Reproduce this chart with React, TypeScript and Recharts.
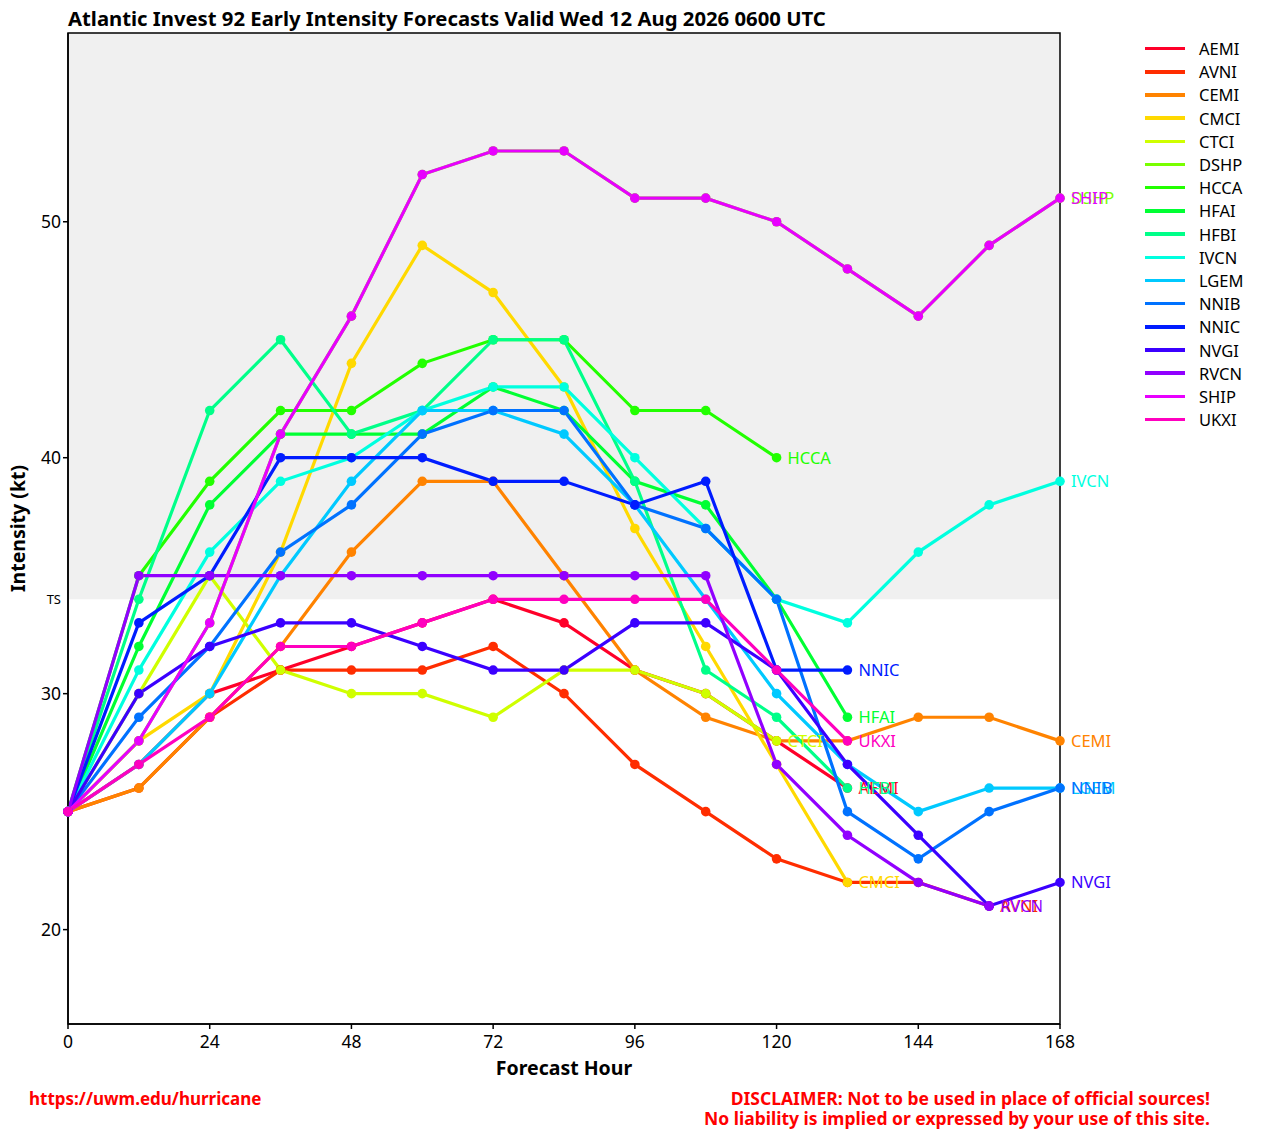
import React from 'react';
import {
    LineChart, Line, XAxis, YAxis, ReferenceArea, ReferenceLine, LabelList
} from 'recharts';

// forecast hours and model intensities (kt), null = no forecast
const hours = [0, 12, 24, 36, 48, 60, 72, 84, 96, 108, 120, 132, 144, 156, 168];

const AEMI = [25, 27, 30, 31, 32, 33, 34, 33, 31, 30, 28, 26, null, null, null];
const AVNI = [25, 26, 29, 31, 31, 31, 32, 30, 27, 25, 23, 22, 22, 21, null];
const CEMI = [25, 26, 29, 32, 36, 39, 39, 35, 31, 29, 28, 28, 29, 29, 28];
const CMCI = [25, 28, 30, 36, 44, 49, 47, 43, 37, 32, 27, 22, null, null, null];
const CTCI = [25, 30, 35, 31, 30, 30, 29, 31, 31, 30, 28, null, null, null, null];
const DSHP = [25, 28, 33, 41, 46, 52, 53, 53, 51, 51, 50, 48, 46, 49, 51];
const HCCA = [25, 35, 39, 42, 42, 44, 45, 45, 42, 42, 40, null, null, null, null];
const HFAI = [25, 32, 38, 41, 41, 41, 43, 42, 39, 38, 34, 29, null, null, null];
const HFBI = [25, 34, 42, 45, 41, 42, 45, 45, 39, 31, 29, 26, null, null, null];
const IVCN = [25, 31, 36, 39, 40, 42, 43, 43, 40, 37, 34, 33, 36, 38, 39];
const LGEM = [25, 27, 30, 35, 39, 42, 42, 41, 38, 34, 30, 27, 25, 26, 26];
const NNIB = [25, 29, 32, 36, 38, 41, 42, 42, 38, 37, 34, 25, 23, 25, 26];
const NNIC = [25, 33, 35, 40, 40, 40, 39, 39, 38, 39, 31, 31, null, null, null];
const NVGI = [25, 30, 32, 33, 33, 32, 31, 31, 33, 33, 31, 27, 24, 21, 22];
const RVCN = [25, 35, 35, 35, 35, 35, 35, 35, 35, 35, 27, 24, 22, 21, null];
const SHIP = [25, 28, 33, 41, 46, 52, 53, 53, 51, 51, 50, 48, 46, 49, 51];
const UKXI = [25, 27, 29, 32, 32, 33, 34, 34, 34, 34, 31, 28, null, null, null];

const models = ['AEMI', 'AVNI', 'CEMI', 'CMCI', 'CTCI', 'DSHP', 'HCCA', 'HFAI', 'HFBI',
    'IVCN', 'LGEM', 'NNIB', 'NNIC', 'NVGI', 'RVCN', 'SHIP', 'UKXI'];
const values: (number | null)[][] = [AEMI, AVNI, CEMI, CMCI, CTCI, DSHP, HCCA, HFAI, HFBI,
    IVCN, LGEM, NNIB, NNIC, NVGI, RVCN, SHIP, UKXI];

const xTicks = [0, 24, 48, 72, 96, 120, 144, 168];
const yTicks = [20, 30, 40, 50];

// gist_rainbow, 17 steps
const colors = ['#ff0029', '#ff2d00', '#ff8300', '#ffd900', '#cfff00', '#79ff00', '#22ff00',
    '#00ff33', '#00ff89', '#00ffdf', '#00c9ff', '#0072ff', '#001cff', '#3b00ff', '#9100ff',
    '#e800ff', '#ff00bf'];

const FONT = '"Noto Sans", sans-serif';

const data = hours.map((h, i) => {
    const row: any = { hour: h };
    models.forEach((m, k) => { row[m] = values[k][i]; });
    return row;
});

const lastIndex = (arr: (number | null)[]) => {
    let idx = -1;
    arr.forEach((v, i) => { if (v != null) idx = i; });
    return idx;
};

const App: React.FC = () => {
    return (
        <div style={{ position: 'relative', width: 1263, height: 1139, background: '#fff', fontFamily: FONT }}>
            <style>{`body { margin: 0; }`}</style>
            <div style={{ position: 'absolute', left: 68, top: 4, fontSize: 20.3, fontWeight: 700, color: '#000', whiteSpace: 'nowrap' }}>
                Atlantic Invest 92 Early Intensity Forecasts Valid Wed 12 Aug 2026 0600 UTC
            </div>
            <LineChart width={1263} height={1139} data={data}
                margin={{ top: 33, right: 203, left: 8, bottom: 55 }}
                style={{ position: 'absolute', left: 0, top: 0 }}>
                <ReferenceArea x1={0} x2={168} y1={34} y2={58} fill="#f0f0f0" fillOpacity={1} stroke="none" />
                <XAxis type="number" dataKey="hour" domain={[0, 168]} ticks={xTicks} height={60}
                    axisLine={{ stroke: '#000', strokeWidth: 1.5 }} tickLine={{ stroke: '#000', strokeWidth: 1.5 }}
                    tickSize={5} tick={{ fontSize: 17.5, fill: '#000', fontFamily: FONT, dy: 5 }}
                    label={{ value: 'Forecast Hour', position: 'insideBottom', offset: 9, fontSize: 19.5, fontWeight: 700, fill: '#000', fontFamily: FONT }} />
                <YAxis type="number" domain={[16, 58]} ticks={yTicks} width={60}
                    axisLine={{ stroke: '#000', strokeWidth: 1.5 }} tickLine={{ stroke: '#000', strokeWidth: 1.5 }}
                    tickSize={5} tick={{ fontSize: 17.5, fill: '#000', fontFamily: FONT }}
                    label={{ value: 'Intensity (kt)', angle: -90, position: 'insideLeft', offset: 10, fontSize: 19.5, fontWeight: 700, fill: '#000', fontFamily: FONT, style: { textAnchor: 'middle' } }} />
                <ReferenceLine y={34} stroke="none"
                    label={{ value: 'TS', position: 'left', offset: 7, fontSize: 13, fill: '#000', fontFamily: FONT }} />
                {models.map((m, k) => {
                    const last = lastIndex(values[k]);
                    return (
                        <Line key={m} type="linear" dataKey={m} stroke={colors[k]} strokeWidth={3.2}
                            dot={{ r: 4.8, fill: colors[k], stroke: colors[k], strokeWidth: 0 }}
                            activeDot={false} isAnimationActive={false} connectNulls={false}>
                            <LabelList dataKey={m} content={(p: any) => {
                                if (p.index !== last) return null;
                                return (
                                    <text x={p.x + 11} y={p.y} dy={6} fontSize={16.5} fill={colors[k]} fontFamily={FONT}>{m}</text>
                                );
                            }} />
                        </Line>
                    );
                })}
                <ReferenceArea x1={0} x2={168} y1={16} y2={58} fill="none" stroke="#000" strokeWidth={1.5} ifOverflow="visible" />
            </LineChart>
            {/* legend */}
            <div style={{ position: 'absolute', left: 1145, top: 37 }}>
                {models.map((m, k) => (
                    <div key={m} style={{ display: 'flex', alignItems: 'center', height: 23.2 }}>
                        <div style={{ width: 40, height: 3.5, background: colors[k], marginRight: 14 }} />
                        <span style={{ fontSize: 16.5, color: '#000' }}>{m}</span>
                    </div>
                ))}
            </div>
            <div style={{ position: 'absolute', left: 29, top: 1087, fontSize: 17, fontWeight: 700, color: '#ff0000', whiteSpace: 'nowrap' }}>
                https://uwm.edu/hurricane
            </div>
            <div style={{ position: 'absolute', right: 1263 - 1210, top: 1088, fontSize: 17.5, fontWeight: 700, color: '#ff0000', textAlign: 'right', lineHeight: '20px', whiteSpace: 'nowrap' }}>
                <div>DISCLAIMER: Not to be used in place of official sources!</div>
                <div>No liability is implied or expressed by your use of this site.</div>
            </div>
        </div>
    );
};

export default App;
